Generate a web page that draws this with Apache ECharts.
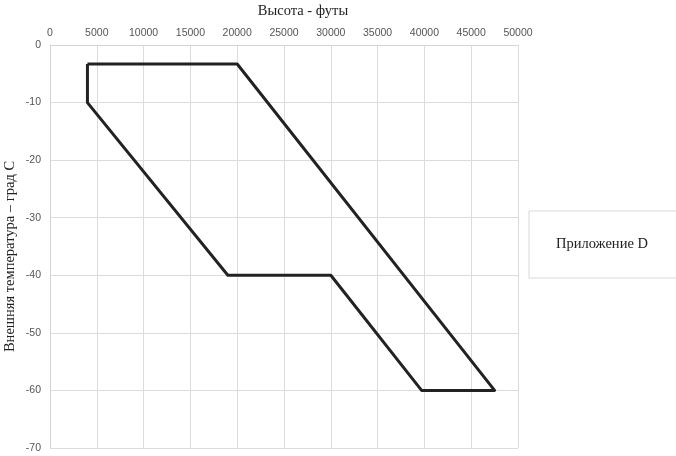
<!DOCTYPE html>
<html>
<head>
<meta charset="utf-8">
<script src="https://cdn.jsdelivr.net/npm/echarts@6/dist/echarts.min.js"></script>
<style>html,body{margin:0;padding:0;background:#fff}#c{width:676px;height:456px}</style>
</head>
<body>
<div id="c"></div>
<script>
const seriesName = 'Приложение D';
const xTitle = 'Высота - футы';
const yTitle = 'Внешняя температура – град С';
const altitude =    [4000, 20000, 47500, 39700, 30000, 19000, 4000, 4000];
const temperature = [-3.3, -3.3,  -60,   -60,   -40,   -40,   -10,  -3.3];

const chart = echarts.init(document.getElementById('c'));
chart.setOption({
  animation: false,
  backgroundColor: '#fff',
  title: {
    text: xTitle,
    left: 298, textAlign: 'center', top: -1,
    textStyle: {fontFamily: 'Liberation Serif', fontSize: 14.5, fontWeight: 'normal', color: '#222'}
  },
  legend: {
    data: [{name: seriesName, icon: 'none'}],
    left: 529, top: 211,
    itemWidth: 0, itemHeight: 0,
    padding: [26, 32, 26, 22],
    borderColor: '#d9d9d9', borderWidth: 1,
    textStyle: {fontFamily: 'Liberation Serif', fontSize: 14.5, color: '#222'}
  },
  grid: {left: 50, top: 45, width: 468, height: 403, show: false, outerBoundsMode: 'none', containLabel: false},
  xAxis: {
    type: 'value', position: 'top', min: 0, max: 50000, interval: 5000,
    axisLine: {show: true, lineStyle: {color: '#d4d4d4'}},
    axisTick: {show: false},
    axisLabel: {fontFamily: 'Liberation Sans', fontSize: 10.5, color: '#555', margin: 6,
      formatter: v => String(v)},
    splitLine: {show: true, lineStyle: {color: '#dcdcdc', width: 1}}
  },
  yAxis: {
    type: 'value', min: -70, max: 0, interval: 10,
    name: yTitle, nameLocation: 'middle', nameRotate: 90, nameGap: 32, nameMoveOverlap: false,
    nameTextStyle: {fontFamily: 'Liberation Serif', fontSize: 14.5, color: '#222', padding: [0, 20, 0, 0]},
    axisLine: {show: true, onZero: false, lineStyle: {color: '#d4d4d4'}},
    axisTick: {show: false},
    axisLabel: {fontFamily: 'Liberation Sans', fontSize: 10.5, color: '#555', margin: 9,
      formatter: v => String(v)},
    splitLine: {show: true, lineStyle: {color: '#dcdcdc', width: 1}}
  },
  series: [{
    name: seriesName,
    type: 'line',
    data: altitude.map((a, i) => [a, temperature[i]]),
    showSymbol: false,
    symbol: 'none',
    lineStyle: {color: '#222', width: 3, join: 'round'},
    itemStyle: {color: '#222'}
  }]
});
</script>
</body>
</html>
